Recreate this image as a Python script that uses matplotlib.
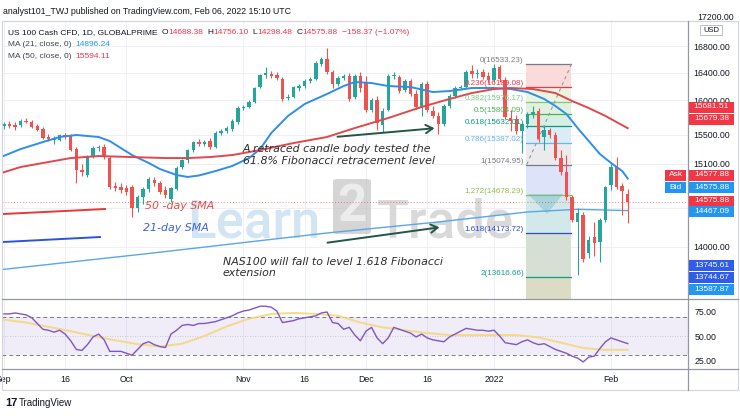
import numpy as np
import pandas as pd
import matplotlib
matplotlib.use("Agg")
import matplotlib.pyplot as plt
from matplotlib.patches import Rectangle, Polygon, FancyBboxPatch
from matplotlib.lines import Line2D
from matplotlib.ticker import NullLocator

plt.rcParams['font.family'] = ['Liberation Sans', 'DejaVu Sans']

W, H = 740, 416

# ---- daily candles, Sep 1 2021 .. Feb 4 2022 ----
dates = pd.bdate_range('2021-09-01', '2022-02-04')

opens = [15626, 15654, 15640, 15640, 15697, 15682, 15626, 15583, 15470, 15427,
         15427, 15498, 15484, 15301, 15012, 14944, 15190, 15315, 15329, 15176,
         14795, 14781, 14768, 14781, 14501, 14647, 14755, 14876, 14836, 14741,
         14621, 14755, 15053, 15149, 15287, 15399, 15371, 15413, 15329, 15526,
         15555, 15583, 15682, 15884, 15899, 15971, 16190, 16369, 16383, 16369,
         16309, 16029, 16044, 16176, 16205, 16279, 16309, 16533, 16609, 16413,
         16235, 16324, 16354, 16044, 16354, 16264, 15855, 16000, 15640, 15855,
         16354, 16339, 16146, 16279, 16088, 15884, 16235, 15841, 15769, 15654,
         15913, 16058, 16176, 16190, 16428, 16383, 16413, 16354, 16294, 16488,
         16294, 15740, 15725, 15555, 15654, 15797, 15841, 15470, 15569, 15498,
         15176, 14985, 14647, 14318, 14409, 13919, 14123, 14059, 14344, 14809,
         15053, 14795, 14688.38]
highs = [15682, 15697, 15682, 15725, 15740, 15711, 15654, 15611, 15512, 15484,
         15512, 15526, 15512, 15329, 15094, 15218, 15343, 15357, 15371, 15204,
         14849, 14836, 14809, 14809, 14674, 14781, 14917, 14917, 14863, 14795,
         14781, 15067, 15163, 15301, 15413, 15441, 15427, 15456, 15555, 15583,
         15626, 15725, 15913, 15928, 16000, 16190, 16383, 16488, 16428, 16413,
         16339, 16088, 16205, 16235, 16309, 16339, 16579, 16640, 16776, 16443,
         16354, 16383, 16398, 16383, 16413, 16354, 16029, 16058, 15884, 16383,
         16413, 16369, 16309, 16309, 16146, 16264, 16279, 15913, 15826, 15942,
         16088, 16205, 16220, 16443, 16518, 16458, 16458, 16413, 16533.23, 16518,
         16339, 15855, 15783, 15682, 15826, 15913, 15884, 15626, 15597, 15541,
         15287, 15218, 14674, 14501, 14449, 14136, 14318, 14370, 14795, 15094,
         15190, 14836, 14756.10]
lows = [15583, 15597, 15569, 15611, 15668, 15597, 15555, 15441, 15413, 15371,
        15413, 15441, 15273, 14836, 14930, 14917, 15176, 15273, 15163, 14755,
        14728, 14701, 14674, 14383, 14449, 14554, 14714, 14795, 14688, 14634,
        14581, 14741, 15026, 15108, 15259, 15343, 15343, 15301, 15315, 15498,
        15526, 15555, 15654, 15855, 15884, 15957, 16176, 16324, 16324, 16294,
        15986, 16000, 16029, 16131, 16176, 16249, 16294, 16503, 16383, 16176,
        16205, 16294, 15986, 16015, 16117, 15826, 15826, 15569, 15541, 15841,
        16309, 16102, 16117, 16058, 15870, 15769, 15826, 15740, 15512, 15626,
        15884, 16029, 16146, 16176, 16324, 16324, 16309, 16249, 16264, 16264,
        15725, 15555, 15512, 15246, 15597, 15740, 15399, 15287, 15456, 15149,
        14944, 14607, 14318, 13644, 13806, 13856, 13882, 13806, 14318, 14741,
        14755, 14409, 14298.48]
closes = [15654, 15626, 15611, 15697, 15682, 15611, 15569, 15456, 15441, 15456,
          15498, 15470, 15287, 15012, 14985, 15190, 15315, 15329, 15190, 14781,
          14768, 14741, 14714, 14501, 14647, 14755, 14890, 14836, 14714, 14674,
          14768, 15039, 15149, 15287, 15399, 15371, 15399, 15329, 15526, 15555,
          15597, 15697, 15884, 15899, 15971, 16176, 16369, 16398, 16354, 16324,
          16015, 16044, 16190, 16205, 16279, 16309, 16548, 16609, 16413, 16235,
          16324, 16354, 16015, 16354, 16176, 15855, 16000, 15668, 15841, 16354,
          16369, 16131, 16279, 16088, 15899, 16235, 15855, 15769, 15654, 15913,
          16058, 16176, 16190, 16413, 16383, 16398, 16339, 16294, 16473, 16309,
          15754, 15697, 15555, 15654, 15797, 15826, 15441, 15569, 15498, 15176,
          14985, 14647, 14344, 14436, 13844, 14085, 14046, 14344, 14781, 15053,
          14781, 14728, 14575.88]

# moving averages, read at a few bars
ma21_bars = [-1, 3, 7, 10, 13, 17, 19, 21, 23, 26, 28, 31, 33, 35, 38, 41, 44, 46, 48, 51,
             54, 58, 61, 63, 66, 69, 73, 77, 80, 84, 88, 91, 94, 97, 99, 101, 103, 105,
             107, 109, 111, 112]
ma21_vals = [15176, 15301, 15399, 15470, 15498, 15470, 15413, 15315, 15218, 15108, 15026,
             14944, 14917, 14937, 14998, 15067, 15176, 15301, 15526, 15769, 15942, 16088,
             16205, 16264, 16249, 16205, 16190, 16117, 16131, 16176, 16176, 16161, 16117,
             16015, 15913, 15797, 15597, 15413, 15232, 15108, 14998, 14896.24]
ma50_bars = [-1, 3, 7, 12, 17, 23, 29, 33, 37, 41, 46, 52, 58, 63, 69, 75, 80, 84, 88, 91,
             95, 99, 102, 105, 108, 112]
ma50_vals = [14958, 15053, 15108, 15176, 15204, 15190, 15176, 15176, 15190, 15218, 15287,
             15385, 15470, 15597, 15740, 15899, 16015, 16102, 16161, 16176, 16161, 16102,
             15986, 15884, 15769, 15594.11]
long_bars = [-1, 26, 58, 78, 94, 103, 112]
long_vals = [13706, 13913, 14175, 14318, 14449, 14484, 14467.09]

# RSI(14) and its SMA
rsi = [73, 73, 74, 73, 72, 69, 63, 57, 56, 54,
       56, 52, 45, 36, 35, 41, 49, 52, 46, 34,
       34, 34, 32, 30, 36, 42, 44, 41, 39, 38,
       52, 56, 61, 62, 61, 63, 63, 64, 65, 67,
       69, 71, 74, 76, 77, 79, 81, 81, 80, 76,
       64, 65, 66, 68, 69, 70, 71, 74, 75, 64,
       63, 57, 59, 51, 45, 55, 59, 48, 42, 48,
       59, 57, 55, 53, 49, 52, 48, 46, 45, 44,
       49, 52, 55, 58, 57, 56, 56, 55, 56, 50,
       43, 42, 41, 44, 46, 43, 41, 42, 39, 36,
       34, 32, 29, 27, 23, 28, 29, 37, 44, 48,
       46, 44, 42.06]
rsi_ma_bars = [0, 4, 8, 12, 16, 20, 24, 28, 32, 36, 40, 44, 48, 52, 56, 60, 64, 68, 72, 76,
               80, 84, 88, 92, 96, 100, 104, 108, 112]
rsi_ma_vals = [67, 64, 59.5, 55, 50, 45.5, 41.5, 39, 42, 50, 60, 68, 73, 74, 73, 71, 64, 59,
               56, 53, 51, 51, 51, 51, 48.5, 43, 37.5, 35.5, 35.65]

# fibonacci drawing
fib_levels = [0, 0.236, 0.382, 0.5, 0.618, 0.786, 1, 1.272, 1.618, 2]
fib_prices = [16533.23, 16189.08, 15976.17, 15804.09, 15632.01, 15387.02, 15074.95,
              14678.29, 14173.72, 13616.66]
fib_floor = 12715.45
fib_span = [93.8, 101.9]
fib_line_colors = ['#787b86', '#f23645', '#81c784', '#4caf50', '#089981', '#64b5f6',
                   '#787b86', '#8bc34a', '#2a4bd7', '#10a08a']
fib_band_colors = ['#fbdada', '#ebf3e1', '#e2f1de', '#d7eee3', '#dbecf7', '#ebebee',
                   '#dde4fa', '#d2e8ea', '#d5dfd3', '#dcdcc5']

price_ticks = [16800, 16400, 16000, 15500, 15100, 14500, 14000]
rsi_ticks = [75, 50, 25]
time_ticks = ['2021-09-01', '2021-09-16', '2021-10-01', '2021-11-01', '2021-11-16',
              '2021-12-01', '2021-12-16', '2022-01-03', '2022-02-01']
time_labels = ['Sep', '16', 'Oct', 'Nov', '16', 'Dec', '16', '2022', 'Feb']

# price boxes on the right scale: text, colour, pixel row
axis_boxes = [('15681.51', '#f23645', 107), ('15679.38', '#f23645', 119),
              ('14577.88', '#f23645', 175), ('14575.88', '#2196f3', 187),
              ('14575.88', '#f23645', 201), ('14467.09', '#2196f3', 211.5),
              ('13745.61', '#2f5ceb', 265.5), ('13744.67', '#2f5ceb', 277.5),
              ('13587.87', '#2196f3', 289.5)]

GREEN, RED = '#26a69a', '#ef5350'
TXT = '#131722'


def fx(px):
    return px / W


def fy(py):
    return 1 - py / H


fig = plt.figure(figsize=(W / 100, H / 100), dpi=100)
fig.patch.set_facecolor('white')

ax = fig.add_axes([fx(2), fy(299), (688 - 2) / W, (299 - 22) / H])
ax2 = fig.add_axes([fx(2), fy(369), (688 - 2) / W, (369 - 299) / H], sharex=ax)

x = np.arange(len(dates))
bar_left = (2 - 3.9) / 5.57
bar_right = (688 - 3.9) / 5.57

for a in (ax, ax2):
    for s in a.spines.values():
        s.set_visible(False)
    a.set_xlim(bar_left, bar_right)
    a.tick_params(length=0)
    a.yaxis.tick_right()

# ---- main pane ----
ax.set_yscale('log')
ax.set_ylim(13348, 17178)
ax.yaxis.set_minor_locator(NullLocator())
ax.set_yticks(price_ticks)
ax.set_yticklabels(['%.2f' % t for t in price_ticks], fontsize=6.3, color=TXT)
ax.tick_params(axis='y', pad=3.6)
ax.tick_params(axis='x', labelbottom=False)

tick_pos = [dates.get_loc(pd.Timestamp(d)) for d in time_ticks]
ax.set_xticks(tick_pos)
ax.grid(True, color='#eef0f5', lw=0.7, zorder=0)
ax.set_axisbelow(True)

# fib bands and levels
edges = fib_prices + [fib_floor]
for i in range(len(fib_prices)):
    ax.fill_between(fib_span, edges[i + 1], edges[i], color=fib_band_colors[i],
                    lw=0, zorder=1)
for lvl, p, c in zip(fib_levels, fib_prices, fib_line_colors):
    ax.plot(fib_span, [p, p], color=c, lw=0.9, zorder=1.2)
    ax.text(fib_span[0] - 0.45, p, '%g(%.2f)' % (lvl, p), color=c, fontsize=5.8,
            ha='right', va='bottom', zorder=4)
ax.plot([fib_span[1], fib_span[0]], [fib_prices[0], fib_prices[6]], color='#9598a1',
        lw=0.8, ls=(0, (3, 3)), zorder=1.3)

# watermark
wm = dict(transform=fig.transFigure, fontsize=38, family=['Roboto', 'DejaVu Sans'],
          fontweight='medium', va='baseline', ha='left', zorder=1.5)
ax.text(fx(187), fy(238), 'Learn', color='#b6d2ec', alpha=0.6, **wm)
ax.add_patch(FancyBboxPatch((fx(333), fy(234)), fx(38), 55 / H,
                            boxstyle='round,pad=0,rounding_size=0.006',
                            transform=fig.transFigure, facecolor='#b9b9b9',
                            edgecolor='none', alpha=0.6, zorder=1.5))
ax.text(fx(352), fy(207), '2', color='#ececec', transform=fig.transFigure, fontsize=37,
        family=['Roboto', 'DejaVu Sans'], fontweight='bold', ha='center', va='center',
        zorder=1.6)
ax.text(fx(377), fy(238), 'Trade', color='#c9c9c9', alpha=0.7, **wm)
ax.add_patch(Polygon([(fx(528), fy(194)), (fx(563), fy(194)), (fx(547), fy(214))],
                     closed=True, transform=fig.transFigure, facecolor='#6cb6c6',
                     edgecolor='none', alpha=0.4, zorder=1.6))

# long blue average and last price line
ax.plot(long_bars, long_vals, color='#5aa7e8', lw=1.0, zorder=2)
ax.axhline(closes[-1], color='#f23645', lw=0.7, ls=(0, (1, 2)), alpha=0.6, zorder=2.2)

# candles
o = np.array(opens)
c = np.array(closes)
hi = np.array(highs)
lo = np.array(lows)
cols = np.where(c >= o, GREEN, RED)
ax.vlines(x, lo, hi, colors=cols, lw=0.8, zorder=3)
body_lo = np.minimum(o, c)
body_h = np.maximum(np.abs(c - o), c * 0.0007)
ax.bar(x, body_h, bottom=body_lo, width=0.62, color=cols, lw=0, zorder=3)

# moving averages
ax.plot(ma21_bars, ma21_vals, color='#2f8ee8', lw=1.4, zorder=3.5)
ax.plot(ma50_bars, ma50_vals, color='#e0484c', lw=1.4, zorder=3.5)

# hand drawn notes
ax.plot([-0.16, 18.15], [14422, 14488], color='#e53935', lw=1.4, zorder=4)
ax.plot([-0.16, 17.25], [14059, 14123], color='#2a56d6', lw=1.4, zorder=4)
note = dict(family='DejaVu Sans', style='italic', fontsize=7.9, zorder=4)
ax.text(25.3, 14528, '50 -day SMA', color='#e0504a', va='center', **note)
ax.text(25.0, 14240, '21-day SMA', color='#3d63d8', va='center', **note)
ax.text(42.9, 15218, 'A retraced candle body tested the\n61.8% Fibonacci retracement level',
        color='#2e2e2e', va='center', linespacing=1.2, **note)
ax.text(39.3, 13738, 'NAS100 will fall to level 1.618 Fibonacci\nextension',
        color='#2e2e2e', va='center', linespacing=1.2, **note)
arrow = dict(arrowstyle='->,head_length=0.5,head_width=0.3', color='#235646', lw=1.4)
ax.annotate('', xy=(77.8, 15597), xytext=(59.4, 15470), arrowprops=arrow, zorder=4)
ax.annotate('', xy=(78.7, 14253), xytext=(57.6, 14046), arrowprops=arrow, zorder=4)

# ---- RSI pane ----
ax2.set_ylim(15.63, 88.54)
ax2.fill_between([bar_left, bar_right], 30, 70, color='#7e57c2', alpha=0.11, lw=0)
ax2.axhline(70, color='#787b86', lw=0.7, ls=(0, (4, 3)))
ax2.axhline(30, color='#787b86', lw=0.7, ls=(0, (4, 3)))
ax2.axhline(50, color='#787b86', lw=0.6, ls=(0, (1, 2)), alpha=0.4)
ax2.plot(rsi_ma_bars, rsi_ma_vals, color='#f5d77c', lw=1.4, alpha=0.9)
ax2.plot(x, rsi, color='#7e57c2', lw=1.0)
ax2.set_yticks(rsi_ticks)
ax2.set_yticklabels(['%.2f' % t for t in rsi_ticks], fontsize=6.3, color=TXT)
ax2.tick_params(axis='y', pad=5)
ax2.set_xticks(tick_pos)
ax2.set_xticklabels(time_labels, fontsize=6.3, color=TXT)
ax2.tick_params(axis='x', pad=4)
ax2.grid(True, axis='x', color='#eef0f5', lw=0.7)
ax2.set_axisbelow(True)


def chain(parts, x0, y0, size):
    t = ax.text(fx(x0), fy(y0), parts[0][0], color=parts[0][1], fontsize=size,
                transform=fig.transFigure, va='center', ha='left', zorder=6)
    for s, col, gap in parts[1:]:
        t = ax.annotate(s, xy=(1, 0.5), xycoords=t, xytext=(gap, 0),
                        textcoords='offset points', color=col, fontsize=size,
                        va='center', ha='left', annotation_clip=False, zorder=6)
    return t


chain([('analyst101_TWJ published on TradingView.com, Feb 06, 2022 15:10 UTC', TXT)],
      3, 12, 6.3)
chain([('US 100 Cash CFD, 1D, GLOBALPRIME', TXT),
       ('O', TXT, 3), ('14688.38', '#f23645', 0),
       ('H', TXT, 3), ('14756.10', '#f23645', 0),
       ('L', TXT, 3), ('14298.48', '#f23645', 0),
       ('C', TXT, 3), ('14575.88', '#f23645', 0),
       ('\u2212158.37 (\u22121.07%)', '#f23645', 3)], 8, 33, 6)
chain([('MA (21, close, 0)', '#434651'), ('14896.24', '#2196f3', 3)], 8, 44.5, 6)
chain([('MA (50, close, 0)', '#434651'), ('15594.11', '#f23645', 3)], 8, 57, 6)
chain([('RSI (14, close, SMA, 14, 2)', '#434651'), ('42.06', '#7e57c2', 3),
       ('35.65', '#f0c94a', 3), ('n/a', '#787b86', 3), ('n/a', '#787b86', 3)],
      8, 307, 6)

# right scale boxes
for txt, col, py in axis_boxes:
    fig.add_artist(Rectangle((fx(689), fy(py + 5.5)), 45 / W, 11 / H, facecolor=col,
                             edgecolor='none', zorder=5))
    fig.text(fx(711.5), fy(py), txt, color='white', fontsize=6, ha='center',
             va='center', zorder=6)
for txt, col, py in [('Ask', '#f23645', 175), ('Bid', '#2196f3', 187)]:
    fig.add_artist(Rectangle((fx(665), fy(py + 5.5)), 21 / W, 11 / H, facecolor=col,
                             edgecolor='none', zorder=5))
    fig.text(fx(675.5), fy(py), txt, color='white', fontsize=6, ha='center',
             va='center', zorder=6)
fig.text(fx(697), fy(18), '17200.00', color=TXT, fontsize=6.3, va='center')
fig.add_artist(Rectangle((fx(700), fy(35)), 22 / W, 10 / H, facecolor='white',
                         edgecolor='#b2b5be', lw=0.6, zorder=5))
fig.text(fx(711), fy(30), 'USD', color=TXT, fontsize=5.5, ha='center', va='center',
         zorder=6)

# frame lines
line_col = '#9598a1'
fig.add_artist(Rectangle((fx(2), fy(390)), 736 / W, 369 / H, facecolor='none',
                         edgecolor='#d1d4dc', lw=0.8))
fig.add_artist(Line2D([fx(2), fx(738)], [fy(299), fy(299)], color=line_col, lw=0.9))
fig.add_artist(Line2D([fx(2), fx(738)], [fy(369), fy(369)], color=line_col, lw=0.9))
fig.add_artist(Line2D([fx(688), fx(688)], [fy(21), fy(390)], color=line_col, lw=0.9))

# footer logo
fig.text(fx(5), fy(403), '17', color=TXT, fontsize=8, fontweight='bold', va='center')
fig.text(fx(19), fy(403), 'TradingView', color=TXT, fontsize=7, va='center')

fig.savefig('out.png', dpi=100, facecolor='white')
